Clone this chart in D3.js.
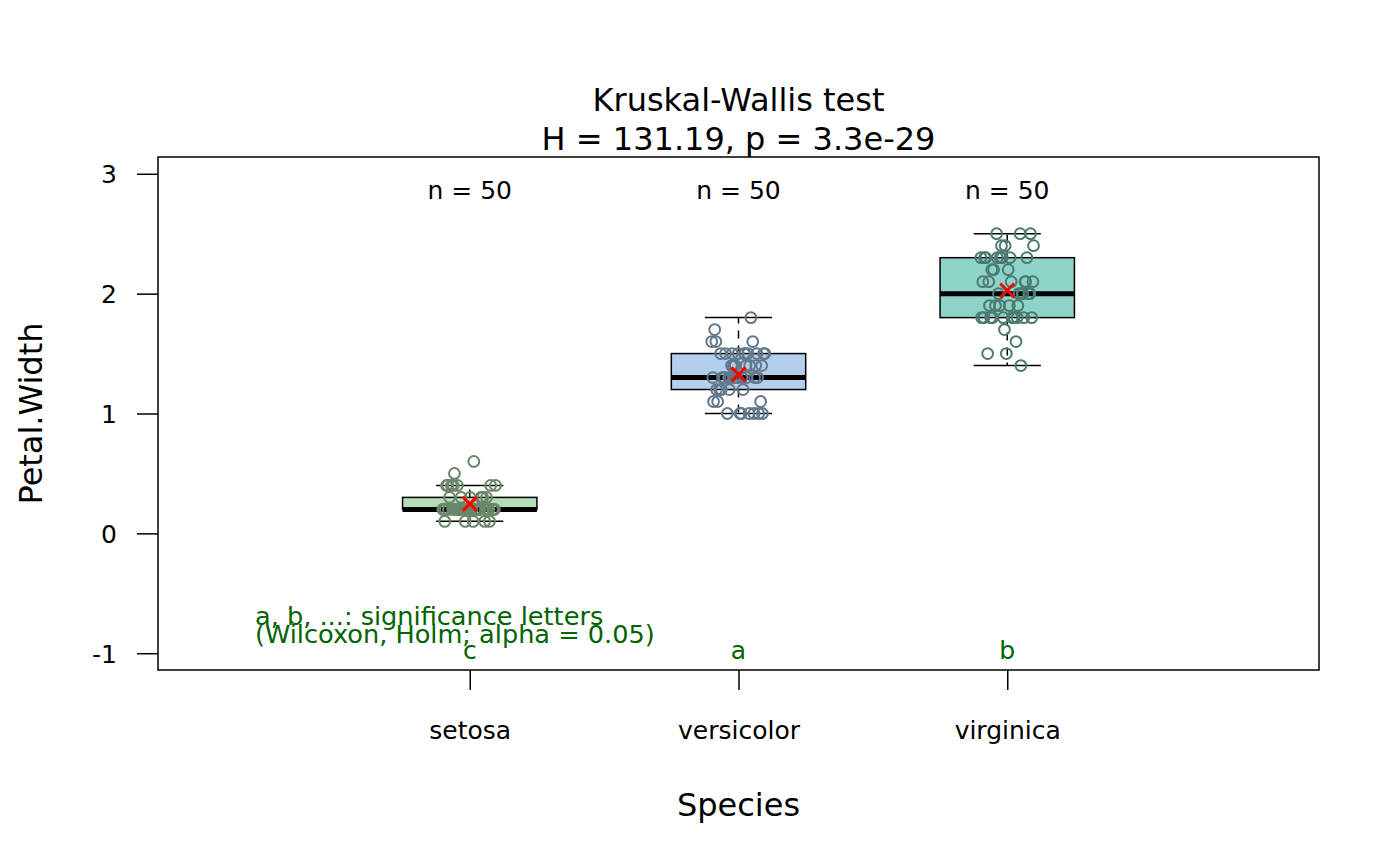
<!DOCTYPE html>
<html><head><meta charset="utf-8">
<script src="https://cdn.jsdelivr.net/npm/d3@7"></script>
<style>body{margin:0;background:#fff;} text{font-family:"DejaVu Sans",sans-serif;}</style>
</head><body>
<svg id="c" width="1400" height="866"></svg>
<script>
// ---- data ----
const categories = ["setosa", "versicolor", "virginica"];
const setosaValues = [0.2,0.2,0.2,0.2,0.2,0.4,0.3,0.2,0.2,0.1,0.2,0.2,0.1,0.1,0.2,0.4,0.4,0.3,0.3,0.3,0.2,0.4,0.2,0.5,0.2,0.2,0.4,0.2,0.2,0.2,0.2,0.4,0.1,0.2,0.2,0.2,0.2,0.1,0.2,0.2,0.3,0.3,0.2,0.6,0.4,0.3,0.2,0.2,0.2,0.2];
const versicolorValues = [1.4,1.5,1.5,1.3,1.5,1.3,1.6,1.0,1.3,1.4,1.0,1.5,1.0,1.4,1.3,1.4,1.5,1.0,1.5,1.1,1.8,1.3,1.5,1.2,1.3,1.4,1.4,1.7,1.5,1.0,1.1,1.0,1.2,1.6,1.5,1.6,1.5,1.3,1.3,1.3,1.2,1.4,1.2,1.0,1.3,1.2,1.3,1.3,1.1,1.3];
const virginicaValues = [2.5,1.9,2.1,1.8,2.2,2.1,1.7,1.8,1.8,2.5,2.0,1.9,2.1,2.0,2.4,2.3,1.8,2.2,2.3,1.5,2.3,2.0,2.0,1.8,2.1,1.8,1.8,1.8,2.1,1.6,1.9,2.0,2.2,1.5,1.4,2.3,2.4,1.8,1.8,2.1,2.4,2.3,1.9,2.3,2.5,2.3,1.9,2.0,2.3,1.8];
const letters = ["c", "a", "b"];
const yTicks = [-1, 0, 1, 2, 3];
const titleLines = ["Kruskal-Wallis test", "H = 131.19, p = 3.3e-29"];
const legendLines = ["a, b, ...: significance letters", "(Wilcoxon, Holm; alpha = 0.05)"];
const boxFills = ["#b4dfb4", "#b3cfec", "#8dd3c7"];
const pointStrokes = ["#6a876a", "#62788c", "#4d7a70"];

const groups = [setosaValues, versicolorValues, virginicaValues];

// ---- layout ----
const L = 158, R = 1319, T = 157, B = 670;
const svg = d3.select("#c");
const x = d3.scaleLinear().domain([-0.16, 4.16]).range([L, R]);
const y = d3.scaleLinear().domain([-1.14, 3.14]).range([B, T]);
const green = "#006400";
const fs = 25, fsBig = 32;

function stats(v) {
  const s = v.slice().sort(d3.ascending);
  const q1 = d3.quantile(s, 0.25), med = d3.quantile(s, 0.5), q3 = d3.quantile(s, 0.75);
  const iqr = q3 - q1;
  const lo = d3.min(s.filter(d => d >= q1 - 1.5 * iqr));
  const hi = d3.max(s.filter(d => d <= q3 + 1.5 * iqr));
  return {q1, med, q3, lo, hi, mean: d3.mean(s), n: s.length};
}

// frame
svg.append("rect").attr("x", L).attr("y", T).attr("width", R - L).attr("height", B - T)
  .attr("fill", "none").attr("stroke", "#000").attr("stroke-width", 1.5);

// axes
const yAxis = d3.axisLeft(y).tickValues(yTicks).tickSize(21).tickPadding(20).tickFormat(d3.format("d"));
const gy = svg.append("g").attr("transform", `translate(${L},0)`).call(yAxis);
gy.select(".domain").remove();
gy.selectAll("line").attr("stroke-width", 1.5);
gy.selectAll("text").attr("font-size", fs).attr("fill", "#000").attr("dy", "0.36em")
  .text(d => d < 0 ? "-" + Math.abs(d) : d);

const xAxis = d3.axisBottom(x).tickValues([1, 2, 3]).tickSize(20).tickFormat((d, i) => categories[i]);
const gx = svg.append("g").attr("transform", `translate(0,${B})`).call(xAxis);
gx.select(".domain").remove();
gx.selectAll("line").attr("stroke-width", 1.5);
gx.selectAll("text").attr("font-size", fs).attr("fill", "#000").attr("y", 69).attr("dy", 0);

// boxes
groups.forEach((vals, gi) => {
  const st = stats(vals);
  const cx = gi + 1;
  const g = svg.append("g");
  // whiskers
  g.append("line").attr("x1", x(cx)).attr("x2", x(cx)).attr("y1", y(st.q3)).attr("y2", y(st.hi))
    .attr("stroke", "#000").attr("stroke-width", 1.5).attr("stroke-dasharray", "8,7");
  g.append("line").attr("x1", x(cx)).attr("x2", x(cx)).attr("y1", y(st.q1)).attr("y2", y(st.lo))
    .attr("stroke", "#000").attr("stroke-width", 1.5).attr("stroke-dasharray", "8,7");
  [st.hi, st.lo].forEach(v => {
    g.append("line").attr("x1", x(cx - 0.125)).attr("x2", x(cx + 0.125)).attr("y1", y(v)).attr("y2", y(v))
      .attr("stroke", "#000").attr("stroke-width", 1.5);
  });
  g.append("rect").attr("x", x(cx - 0.25)).attr("width", x(cx + 0.25) - x(cx - 0.25))
    .attr("y", y(st.q3)).attr("height", y(st.q1) - y(st.q3))
    .attr("fill", boxFills[gi]).attr("stroke", "#000").attr("stroke-width", 1.5);
  g.append("line").attr("x1", x(cx - 0.25)).attr("x2", x(cx + 0.25)).attr("y1", y(st.med)).attr("y2", y(st.med))
    .attr("stroke", "#000").attr("stroke-width", 5);

  // jittered points (deterministic golden-ratio spread)
  g.selectAll("circle").data(vals).join("circle")
    .attr("cx", (d, i) => x(cx + (((i * 0.6180339887 + gi * 0.37) % 1) - 0.5) * 0.2))
    .attr("cy", d => y(d))
    .attr("r", 5.4)
    .attr("fill", "none").attr("stroke", pointStrokes[gi]).attr("stroke-width", 2);

  // mean cross
  const mx = x(cx), my = y(st.mean), s = 7;
  g.append("path").attr("d", `M${mx - s},${my - s}L${mx + s},${my + s}M${mx - s},${my + s}L${mx + s},${my - s}`)
    .attr("stroke", "#ff0000").attr("stroke-width", 3);

  // n label
  svg.append("text").attr("x", x(cx)).attr("y", 199).attr("text-anchor", "middle")
    .attr("font-size", fs).text("n = " + st.n);
  // letter
  svg.append("text").attr("x", x(cx)).attr("y", 659).attr("text-anchor", "middle")
    .attr("font-size", fs).attr("fill", green).text(letters[gi]);
});

// legend
legendLines.forEach((t, i) => {
  svg.append("text").attr("x", 255).attr("y", 625 + i * 18).attr("font-size", 25.6)
    .attr("fill", green).text(t);
});

// titles
titleLines.forEach((t, i) => {
  svg.append("text").attr("x", x(2)).attr("y", 111 + i * 39).attr("text-anchor", "middle")
    .attr("font-size", fsBig).text(t);
});
svg.append("text").attr("x", x(2)).attr("y", 816).attr("text-anchor", "middle")
  .attr("font-size", fsBig).text("Species");
svg.append("text").attr("transform", `translate(42,${(T + B) / 2}) rotate(-90)`)
  .attr("text-anchor", "middle").attr("font-size", fsBig).text("Petal.Width");
</script>
</body></html>
